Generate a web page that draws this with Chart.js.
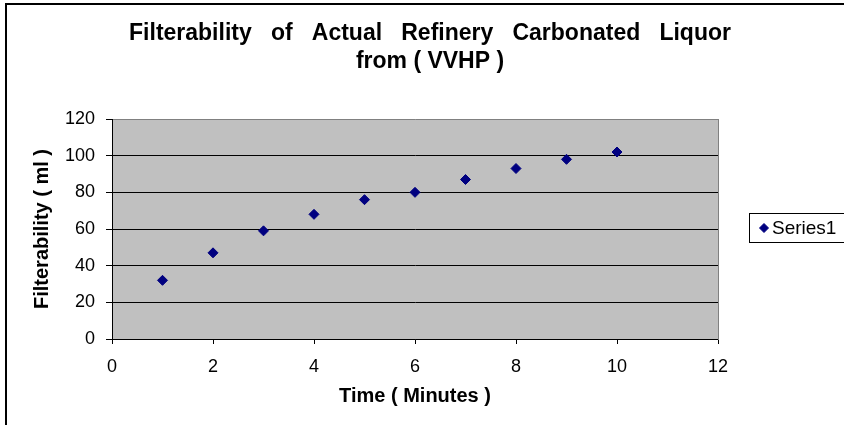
<!DOCTYPE html>
<html>
<head>
<meta charset="utf-8">
<script src="https://cdn.jsdelivr.net/npm/chart.js@4/dist/chart.umd.min.js"></script>
<style>
  html, body { margin: 0; padding: 0; background: #fff; }
  #wrap { width: 844px; height: 425px; position: relative; }
</style>
</head>
<body>
<div id="wrap"><canvas id="c" width="844" height="425"></canvas></div>
<script>
const chartTitle = ["Filterability   of   Actual   Refinery   Carbonated   Liquor", "from ( VVHP )"];
const xTitle = "Time ( Minutes )";
const yTitle = "Filterability ( ml )";
const seriesName = "Series1";
const timeMinutes = [1, 2, 3, 4, 5, 6, 7, 8, 9, 10];
const filterability = [32, 47, 59, 68, 76, 80, 87, 93, 98, 102];
const xTicks = [0, 2, 4, 6, 8, 10, 12];
const yTicks = [0, 20, 40, 60, 80, 100, 120];

const FONT = "'Liberation Sans', Arial, sans-serif";
const MARKER = '#000080';

const decorPlugin = {
  id: 'decor',
  beforeDraw(chart) {
    const {ctx, chartArea: a} = chart;
    ctx.save();
    ctx.fillStyle = '#ffffff';
    ctx.fillRect(0, 0, chart.width, chart.height);
    ctx.fillStyle = '#C0C0C0';
    ctx.fillRect(a.left, a.top, a.right - a.left, a.bottom - a.top);
    ctx.restore();
  },
  afterDraw(chart) {
    const {ctx} = chart;
    ctx.save();
    // outer frame
    ctx.strokeStyle = '#000';
    ctx.lineWidth = 2;
    ctx.strokeRect(6, 4, 900, 500);
    // legend box
    const lx = 749.5, ly = 213.5, lh = 29;
    ctx.fillStyle = '#fff';
    ctx.fillRect(lx, ly, 120, lh);
    ctx.lineWidth = 1;
    ctx.strokeStyle = '#000';
    ctx.strokeRect(lx, ly, 120, lh);
    ctx.fillStyle = MARKER; ctx.strokeStyle = MARKER;
    Chart.helpers.drawPoint(ctx, {pointStyle: 'rectRot', radius: 4.5, borderWidth: 1}, 764, ly + lh / 2);
    ctx.fillStyle = '#000';
    ctx.font = "19px " + FONT;
    ctx.textBaseline = 'middle';
    ctx.textAlign = 'left';
    ctx.fillText(seriesName, 772, ly + lh / 2 + 1);
    ctx.restore();
  }
};

new Chart(document.getElementById('c'), {
  type: 'scatter',
  data: {
    datasets: [{
      label: seriesName,
      data: timeMinutes.map((t, i) => ({x: t, y: filterability[i]})),
      pointStyle: 'rectRot',
      pointRadius: 5,
      pointHoverRadius: 5,
      backgroundColor: MARKER,
      borderColor: MARKER,
      borderWidth: 1,
      showLine: false
    }]
  },
  options: {
    responsive: false,
    animation: false,
    devicePixelRatio: 1,
    layout: { padding: { left: 16, right: 0, top: 0, bottom: 0 } },
    plugins: {
      legend: { display: false },
      tooltip: { enabled: false },
      title: {
        display: true,
        text: chartTitle,
        color: '#000',
        font: { family: FONT, size: 23, weight: 'bold', lineHeight: '28px' },
        padding: { top: 20, bottom: 43 }
      }
    },
    scales: {
      x: {
        type: 'linear',
        position: 'bottom',
        min: 0, max: 12,
        afterBuildTicks: s => { s.ticks = xTicks.map(v => ({value: v})); },
        afterFit: s => { s.height = 86; },
        grid: { drawOnChartArea: false, drawTicks: true, tickLength: 5, color: '#000', tickColor: '#000' },
        border: { display: true, color: '#000', width: 1 },
        ticks: { color: '#000', font: { family: FONT, size: 18 }, padding: 12, maxRotation: 0 },
        title: { display: true, text: xTitle, color: '#000', font: { family: FONT, size: 20, weight: 'bold', lineHeight: 1.2 }, padding: { top: 0, bottom: 17 } }
      },
      y: {
        type: 'linear',
        position: 'left',
        min: 0, max: 120,
        afterBuildTicks: s => { s.ticks = yTicks.map(v => ({value: v})); },
        afterFit: s => { s.width = 96; },
        grid: {
          drawTicks: true, tickLength: 6,
          color: ctx => (ctx.tick && ctx.tick.value === 120) ? '#808080' : '#000',
          tickColor: '#000', lineWidth: 1
        },
        border: { display: true, color: '#000', width: 1 },
        ticks: { color: '#000', font: { family: FONT, size: 18 }, padding: 11 },
        title: { display: true, text: yTitle, color: '#000', font: { family: FONT, size: 20, weight: 'bold', lineHeight: 1.2 }, padding: { top: 14, bottom: 0 } }
      },
      yRight: {
        type: 'linear',
        position: 'right',
        min: 0, max: 1,
        afterFit: s => { s.width = 126; },
        grid: { drawOnChartArea: false, drawTicks: false },
        border: { display: true, color: '#808080', width: 1 },
        ticks: { display: false }
      }
    }
  },
  plugins: [decorPlugin]
});
</script>
</body>
</html>
